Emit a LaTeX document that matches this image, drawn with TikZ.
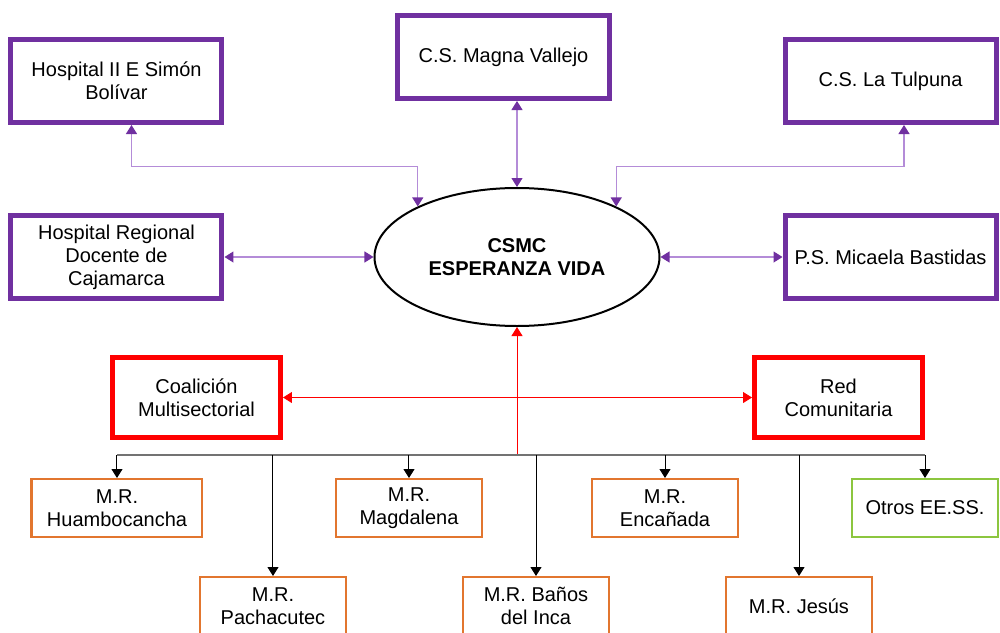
\documentclass[tikz,border=0pt]{standalone}
\usepackage{fontspec}
\setmainfont{Liberation Sans}
\usetikzlibrary{positioning,arrows.meta,shapes.geometric}
\definecolor{mpurple}{HTML}{7030A0}
\definecolor{lpurple}{HTML}{B48CD8}
\definecolor{morange}{HTML}{E2762F}
\definecolor{mgreen}{HTML}{8CC63F}

\begin{document}
\begin{tikzpicture}[
    font=\fontsize{10}{11.5}\selectfont,
    pbox/.style={draw=mpurple, line width=2.5pt, minimum width=105.5pt, minimum height=41.5pt, align=center},
    rbox/.style={draw=red, line width=2.5pt, minimum width=84pt, minimum height=40pt, align=center},
    obox/.style={draw=morange, line width=1.1pt, minimum width=72.9pt, minimum height=28.9pt, align=center},
    gbox/.style={obox, draw=mgreen},
    hub/.style={draw, ellipse, line width=1pt, minimum width=142.5pt, minimum height=69pt, align=center, font=\fontsize{10}{11.5}\selectfont\bfseries},
    parr/.style={<->, >={Triangle[length=4.5pt,width=5.5pt,color=mpurple]}, draw=lpurple, line width=0.6pt},
    rarr/.style={<->, >={Triangle[length=4.5pt,width=5.5pt]}, draw=red, line width=0.5pt},
    rup/.style={->, >={Triangle[length=4.5pt,width=5.5pt]}, draw=red, line width=0.5pt},
    down/.style={->, >={Triangle[length=4.5pt,width=5.5pt]}, draw=black, line width=0.5pt},
    busline/.style={draw=black!55, line width=0.6pt}
]
    \useasboundingbox (-258.5pt,-187.5pt) rectangle (241.5pt,128.5pt);
    \clip (-258.5pt,-187.5pt) rectangle (241.5pt,128.5pt);

    \node[hub] (csmc) at (0,0) {CSMC\\ESPERANZA VIDA};

    % purple ring
    \node[pbox, left=74.5pt of csmc.west] (hregional) {Hospital Regional\\Docente de\\Cajamarca};
    \node[pbox, right=61pt of csmc.east] (micaela) {P.S. Micaela Bastidas};
    \node[pbox, above=44pt of hregional] (simon) {Hospital II E Simón\\Bolívar};
    \node[pbox, above=44pt of micaela] (tulpuna) {C.S. La Tulpuna};
    \node[pbox, above=43pt of csmc.north, xshift=-6.75pt] (magna) {C.S. Magna Vallejo};

    \draw[parr] (hregional) -- (csmc);
    \draw[parr] (csmc) -- (micaela);
    \draw[parr] (csmc.north) -- (csmc.north |- magna.south);
    \draw[parr] (csmc.153) -- ++(0,20pt) -| ([xshift=7.5pt]simon.south);
    \draw[parr] (csmc.27) -- ++(0,20pt) -| ([xshift=6.75pt]tulpuna.south);

    % red pair
    \node[rbox, below left=14pt and 117pt of csmc.south] (coalicion) {Coalición\\Multisectorial};
    \node[rbox, below right=14pt and 117.5pt of csmc.south] (redcom) {Red\\Comunitaria};
    \draw[rarr] (coalicion) -- (redcom);

    \coordinate (bus) at ([yshift=-64pt]csmc.south);
    \draw[rup] (bus) -- (csmc);

    % M.R. boxes
    \node[obox, below=11.5pt of bus, xshift=-200pt, minimum width=85.4pt] (huambo) {M.R.\\Huambocancha};
    \node[obox, below=60.5pt of bus, xshift=-122pt] (pacha) {M.R.\\Pachacutec};
    \node[obox, below=11.5pt of bus, xshift=-54pt] (magda) {M.R.\\Magdalena};
    \node[obox, below=60.5pt of bus, xshift=9.5pt] (banos) {M.R. Baños\\del Inca};
    \node[obox, below=11.5pt of bus, xshift=74pt] (encan) {M.R.\\Encañada};
    \node[obox, below=60.5pt of bus, xshift=141pt] (jesus) {M.R. Jesús};
    \node[gbox, below=11.5pt of bus, xshift=204pt] (otros) {Otros EE.SS.};

    \draw[busline] (huambo |- bus) -- (otros |- bus);
    \draw[down] (huambo |- bus) -- (huambo);
    \draw[down] (pacha |- bus) -- (pacha);
    \draw[down] (magda |- bus) -- (magda);
    \draw[down] (banos |- bus) -- (banos);
    \draw[down] (encan |- bus) -- (encan);
    \draw[down] (jesus |- bus) -- (jesus);
    \draw[down] (otros |- bus) -- (otros);

\end{tikzpicture}
\end{document}
